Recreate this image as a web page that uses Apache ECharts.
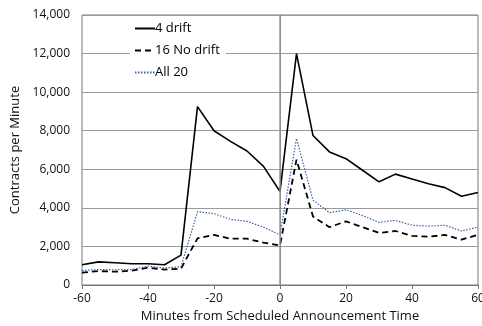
<!DOCTYPE html>
<html style="height: 100%">
<head>
    <meta charset="utf-8">
    <title>ECharts</title>
    <script src="https://cdn.jsdelivr.net/npm/echarts@6/dist/echarts.min.js"></script>
</head>
<body style="height: 100%; margin: 0">
<div id="main" style="width: 482px; height: 326px"></div>

<script type="text/javascript">
    // minutes relative to the scheduled announcement
    var minutes = [-60, -55, -50, -45, -40, -35, -30, -25, -20, -15, -10, -5, 0,
        5, 10, 15, 20, 25, 30, 35, 40, 45, 50, 55, 60];

    var drift4 = [1050, 1200, 1150, 1100, 1100, 1050, 1550, 9250, 8000, 7450, 6950, 6150, 4850,
        12000, 7750, 6900, 6550, 5950, 5350, 5750, 5500, 5250, 5050, 4600, 4800];
    var noDrift16 = [640, 720, 690, 740, 900, 800, 850, 2420, 2600, 2400, 2400, 2200, 2050,
        6500, 3550, 3000, 3300, 3000, 2700, 2800, 2550, 2500, 2600, 2350, 2600];
    var all20 = [750, 800, 790, 800, 980, 880, 950, 3800, 3700, 3400, 3300, 3000, 2600,
        7600, 4400, 3750, 3900, 3600, 3250, 3350, 3100, 3050, 3100, 2800, 3000];

    function pairs(vals) {
        var out = [];
        for (var i = 0; i < minutes.length; i++) {
            out.push([minutes[i], vals[i]]);
        }
        return out;
    }

    var font = 'Open Sans';
    var myChart = echarts.init(document.getElementById('main'));

    option = {
        animation: false,
        textStyle: {fontFamily: font},
        grid: {left: 82, right: 4, top: 15, bottom: 41, outerBoundsMode: 'none',
            show: true, borderColor: '#777', borderWidth: 1},
        legend: {
            orient: 'vertical',
            left: 130, top: 18,
            itemWidth: 20, itemHeight: 10, itemGap: 9,
            padding: [4, 6, 4, 4],
            backgroundColor: '#fff',
            itemStyle: {opacity: 0},
            textStyle: {fontSize: 13, color: '#000', fontFamily: font, padding: [0, 0, 0, -5]},
            data: ['4 drift', '16 No drift', 'All 20']
        },
        xAxis: {
            type: 'value',
            min: -60, max: 60, interval: 20,
            name: 'Minutes from Scheduled Announcement Time',
            nameLocation: 'middle', nameGap: 25,
            nameTextStyle: {fontSize: 13, color: '#111'},
            axisLine: {lineStyle: {color: '#777'}},
            axisTick: {length: 4, lineStyle: {color: '#777'}},
            axisLabel: {fontSize: 12, color: '#111', margin: 8},
            splitLine: {show: false}
        },
        yAxis: {
            type: 'value',
            min: 0, max: 14000, interval: 2000,
            name: 'Contracts per Minute',
            nameLocation: 'middle', nameGap: 58,
            nameTextStyle: {fontSize: 13, color: '#111'},
            axisLine: {show: true, lineStyle: {color: '#777'}},
            axisTick: {show: false},
            axisLabel: {fontSize: 12, color: '#111', margin: 12,
                formatter: function (v) { return v.toLocaleString('en-US'); }},
            splitLine: {lineStyle: {color: '#999', width: 1}}
        },
        series: [
            {
                name: '4 drift', type: 'line', data: pairs(drift4),
                symbol: 'none', z: 4,
                lineStyle: {color: '#000', width: 1.6},
                itemStyle: {color: '#000'},
                markLine: {
                    silent: true, symbol: 'none', label: {show: false},
                    lineStyle: {color: '#999', type: 'solid', width: 1.5},
                    data: [{xAxis: 0}]
                }
            },
            {
                name: '16 No drift', type: 'line', data: pairs(noDrift16),
                symbol: 'none', z: 3,
                lineStyle: {color: '#000', width: 1.8, type: [6, 4]},
                itemStyle: {color: '#000'}
            },
            {
                name: 'All 20', type: 'line', data: pairs(all20),
                symbol: 'none', z: 3,
                lineStyle: {color: '#3a62a8', width: 1.2, type: [1.5, 1.5]},
                itemStyle: {color: '#3a62a8'}
            }
        ]
    };
    myChart.setOption(option, true);
</script>
</body>
</html>
